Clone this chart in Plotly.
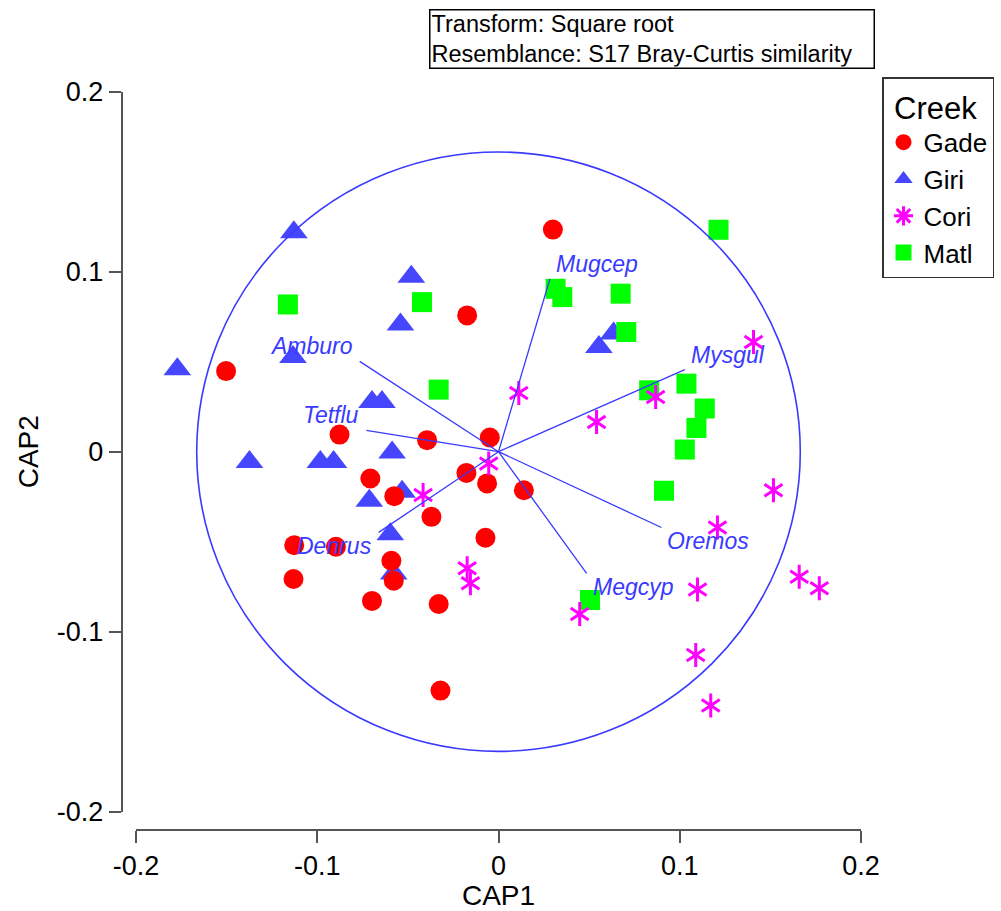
import plotly.graph_objects as go

# ---- CAP ordination scores by creek ----
gade_x = [-0.1503, 0.0300, -0.0173, -0.0877, -0.0394, -0.0048, -0.0177, -0.0063,
          -0.0707, -0.0575, 0.0140, -0.0370, -0.0072, -0.1127, -0.0897, -0.0591,
          -0.0578, -0.1131, -0.0698, -0.0330, -0.0320]
gade_y = [0.0448, 0.1234, 0.0757, 0.0095, 0.0064, 0.0079, -0.0118, -0.0176,
          -0.0149, -0.0247, -0.0214, -0.0362, -0.0478, -0.0520, -0.0528, -0.0606,
          -0.0717, -0.0707, -0.0829, -0.0846, -0.1327]

giri_x = [-0.1129, -0.0481, -0.0541, -0.1134, -0.1772, -0.0698, -0.0643, -0.1374,
          -0.0983, -0.0910, -0.0587, -0.0532, -0.0713, -0.0597, -0.0578, 0.0554, 0.0635]
giri_y = [0.1219, 0.0972, 0.0707, 0.0526, 0.0458, 0.0276, 0.0276, -0.0057,
          -0.0057, -0.0057, -0.0004, -0.0223, -0.0273, -0.0458, -0.0676, 0.0582, 0.0657]

cori_x = [0.1407, 0.0867, 0.0112, 0.0541, -0.0054, -0.0416, -0.0173, -0.0155,
          0.1517, 0.1208, 0.1659, 0.1770, 0.1098, 0.0448, 0.1088, 0.1171]
cori_y = [0.0609, 0.0304, 0.0326, 0.0165, -0.0066, -0.0241, -0.0648, -0.0731,
          -0.0214, -0.0421, -0.0695, -0.0759, -0.0765, -0.0902, -0.1129, -0.1410]

matl_x = [-0.1162, -0.0422, -0.0330, 0.1214, 0.0315, 0.0352, 0.0674, 0.0705,
          0.1037, 0.0831, 0.1138, 0.1092, 0.1028, 0.0913, 0.0505]
matl_y = [0.0818, 0.0831, 0.0345, 0.1233, 0.0905, 0.0859, 0.0878, 0.0665,
          0.0378, 0.0341, 0.0240, 0.0132, 0.0012, -0.0217, -0.0824]

# ---- species vectors (Pearson correlations, scaled to the circle) ----
vec_names = ["Mugcep", "Mysgul", "Oremos", "Megcyp", "Amburo", "Tetflu", "Denrus"]
vec_x = [0.0284, 0.1028, 0.0899, 0.0486, -0.0766, -0.0729, -0.0661]
vec_y = [0.0961, 0.0456, -0.0421, -0.0676, 0.0502, 0.0119, -0.0448]
circle_radius = 0.1665

# ---- axis ticks ----
tick_vals = [-0.2, -0.1, 0, 0.1, 0.2]
tick_text = ["-0.2", "-0.1", "0", "0.1", "0.2"]

FONT = "Arial, 'Liberation Sans', sans-serif"
W, H = 1001, 911
VEC_BLUE = "#3a3aff"
NB = "\u00a0"

fig = go.Figure()

# sample scores (drawing order controls which symbol sits on top)
fig.add_trace(go.Scatter(
    x=giri_x, y=giri_y, mode="markers", name="Giri", legendrank=2,
    marker=dict(symbol="triangle-up", size=24, color="#4646ff", line=dict(width=0)),
))
fig.add_trace(go.Scatter(
    x=matl_x, y=matl_y, mode="markers", name="Matl", legendrank=4,
    marker=dict(symbol="square", size=20, color="#00ff00", line=dict(width=0)),
))
fig.add_trace(go.Scatter(
    x=gade_x, y=gade_y, mode="markers", name="Gade", legendrank=1,
    marker=dict(symbol="circle", size=20, color="#ff0000", line=dict(width=0)),
))
# six-armed asterisk = upward Y + downward Y
for sym in ("y-up-open", "y-down-open"):
    fig.add_trace(go.Scatter(
        x=cori_x, y=cori_y, mode="markers", name="Cori", showlegend=False,
        legendgroup="Cori",
        marker=dict(symbol=sym, size=15, color="#ff00ff",
                    line=dict(width=3, color="#ff00ff")),
    ))
fig.add_trace(go.Scatter(
    x=[None], y=[None], mode="markers", name="Cori", legendrank=3,
    legendgroup="Cori",
    marker=dict(symbol="asterisk-open", size=16, color="#ff00ff",
                line=dict(width=3, color="#ff00ff")),
))

# vectors from the origin
lx, ly = [], []
for vx, vy in zip(vec_x, vec_y):
    lx += [0, vx, None]
    ly += [0, vy, None]
fig.add_trace(go.Scatter(
    x=lx, y=ly, mode="lines", showlegend=False, hoverinfo="skip",
    line=dict(color=VEC_BLUE, width=1.3),
))

annotations = []
for name, vx, vy in zip(vec_names, vec_x, vec_y):
    annotations.append(dict(
        x=vx, y=vy, xref="x", yref="y", text=name, showarrow=False,
        xanchor="left" if vx > 0 else "right", yanchor="middle",
        xshift=4 if vx > 0 else -5, yshift=15 if vy > 0 else -14,
        font=dict(family=FONT, size=23, color=VEC_BLUE, style="italic"),
    ))

annotations.append(dict(
    xref="paper", yref="paper", x=429 / W, y=1 - 9 / H,
    xanchor="left", yanchor="top", align="left", showarrow=False,
    text="Transform: Square root<br>Resemblance: S17 Bray-Curtis similarity",
    font=dict(family=FONT, size=23.5, color="black"),
    bordercolor="black", borderwidth=1.5, borderpad=1,
    width=441, height=55, bgcolor="white",
))

axis_common = dict(
    range=[-0.2, 0.2], anchor="free", showline=True, linecolor="#555555",
    linewidth=2, ticks="outside", ticklen=12, tickwidth=2, tickcolor="#555555",
    tickvals=tick_vals, ticktext=tick_text, showgrid=False, zeroline=False,
    tickfont=dict(family=FONT, size=27, color="black"),
)

fig.update_layout(
    width=W, height=H,
    margin=dict(l=0, r=0, t=0, b=0, autoexpand=False),
    paper_bgcolor="white", plot_bgcolor="white",
    font=dict(family=FONT, color="black"),
    xaxis=dict(**axis_common, domain=[136 / W, 861 / W], position=1 - 829.5 / H,
               title=dict(text="CAP1", font=dict(family=FONT, size=28), standoff=0)),
    yaxis=dict(**axis_common, domain=[1 - 811.7 / H, 1 - 91.7 / H], position=121.7 / W,
               title=dict(text="CAP2", font=dict(family=FONT, size=28), standoff=9)),
    shapes=[dict(
        type="circle", xref="x", yref="y", layer="above",
        x0=-circle_radius, y0=-circle_radius, x1=circle_radius, y1=circle_radius,
        line=dict(color=VEC_BLUE, width=1.6),
    )],
    annotations=annotations,
    legend=dict(
        x=882 / W, y=1 - 77 / H, xanchor="left", yanchor="top",
        bordercolor="#333333", borderwidth=1.5, bgcolor="white",
        font=dict(family=FONT, size=26, color="black"),
        title=dict(text=NB + "Creek",
                   font=dict(family=FONT, size=31, color="black")),
        traceorder="normal", itemwidth=30,
    ),
    showlegend=True,
)

fig.write_html("out.html")
